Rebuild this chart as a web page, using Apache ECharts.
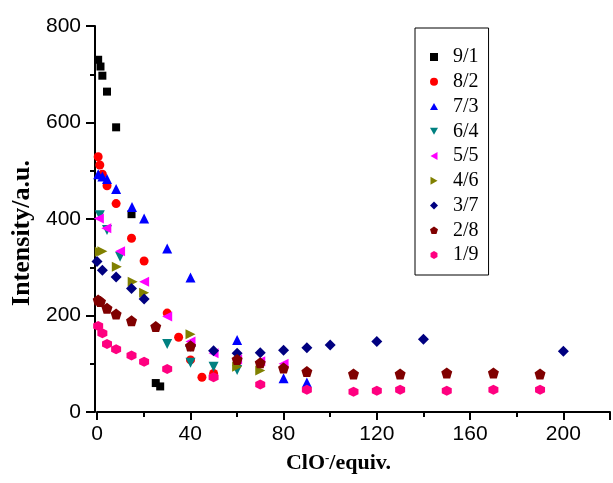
<!DOCTYPE html>
<html>
<head>
<meta charset="utf-8">
<script src="https://cdn.jsdelivr.net/npm/echarts@6/dist/echarts.min.js"></script>
<style>
html, body { margin: 0; padding: 0; background: #fff; }
#chart { width: 613px; height: 483px; }
</style>
</head>
<body>
<div id="chart"></div>
<script>
// ratios shown in the legend
var names = ["9/1", "8/2", "7/3", "6/4", "5/5", "4/6", "3/7", "2/8", "1/9"];

var x91 = [0.5, 1.5, 2.3, 4.3, 8.2, 14.8, 25.2, 27.1];
var y91 = [730, 716, 697, 664, 590, 410, 60, 53];

var x82 = [0.5, 1.2, 2.3, 4.3, 8.2, 14.8, 20.2, 30.1, 35, 40.1, 45, 50];
var y82 = [529, 512, 493, 469, 432, 360, 313, 205, 155, 108, 72, 80];

var x73 = [0.5, 2.3, 4.3, 8.2, 15, 20.2, 30.1, 40.1, 60.1, 80, 90];
var y73 = [493, 488, 483, 462, 425, 401, 339, 279, 149, 70, 61];

var x64 = [1.2, 4.3, 9.9, 30.1, 40.1, 50, 60.1];
var y64 = [408, 377, 322, 141, 102, 94, 87];

var x55 = [0.8, 4, 9.9, 20.2, 30.1, 40.1, 50, 60.1, 70, 80];
var y55 = [401, 381, 333, 270, 198, 146, 122, 109, 105, 100];

var x46 = [1.2, 2.3, 8.5, 15.3, 20.2, 40.1, 60.1, 70];
var y46 = [332, 333, 301, 270, 247, 161, 94, 86];

var x37 = [0, 2.3, 8.2, 14.8, 20.2, 40.1, 50, 60.1, 70, 80, 90, 100, 120, 140, 200];
var y37 = [312, 294, 280, 256, 234, 137, 127, 122, 123, 128, 133, 139, 146, 151, 126];

var x28 = [0.5, 1.5, 4.3, 8.2, 14.8, 25.2, 40.1, 60.1, 70, 80, 90, 110, 130, 150, 170, 190];
var y28 = [232, 229, 215, 203, 189, 177, 137, 109, 102, 91, 84, 79, 79, 81, 81, 79];

var x19 = [0.5, 2.3, 4.3, 8.2, 14.8, 20.2, 30.1, 50, 70, 90, 110, 120, 130, 150, 170, 190];
var y19 = [178, 163, 141, 130, 117, 104, 89, 72, 57, 46, 42, 44, 46, 44, 46, 46];

var xs = [x91, x82, x73, x64, x55, x46, x37, x28, x19];
var ys = [y91, y82, y73, y64, y55, y46, y37, y28, y19];

var colors = ["#000000", "#ff0000", "#0000ff", "#008080", "#ff00ff", "#808000", "#000080", "#800000", "#ff0080"];
var triUp = "path://M50,0 L100,87 L0,87 Z";
var triDown = "path://M0,0 L100,0 L50,87 Z";
var triLeft = "path://M0,50 L87,0 L87,100 Z";
var triRight = "path://M0,0 L87,50 L0,100 Z";
var pentagon = "path://M50,0 L97.6,34.5 L79.4,90.5 L20.6,90.5 L2.4,34.5 Z";
var hexagon = "path://M50,0 L93.3,25 L93.3,75 L50,100 L6.7,75 L6.7,25 Z";
var symbols = ["rect", "circle", triUp, triDown, triLeft, triRight, "diamond", pentagon, hexagon];
var sizes = [8, 9, 10, 10, 10, 10, 11, 11, 10];

function pairs(x, y) {
  var out = [];
  for (var i = 0; i < x.length; i++) out.push([x[i], y[i]]);
  return out;
}

var series = [];
var legendData = [];
for (var i = 0; i < names.length; i++) {
  series.push({
    name: names[i],
    type: "scatter",
    symbol: symbols[i],
    symbolSize: sizes[i],
    itemStyle: { color: colors[i], opacity: 1 },
    emphasis: { disabled: true },
    data: pairs(xs[i], ys[i])
  });
  legendData.push({ name: names[i], icon: symbols[i] });
}

var chart = echarts.init(document.getElementById("chart"), null, { renderer: "canvas" });

var axisFont = { color: "#000", fontFamily: "Liberation Sans", fontSize: 21 };

var option = {
  backgroundColor: "#ffffff",
  animation: false,
  grid: { left: 97, right: -3, top: 26, bottom: 71 },
  legend: {
    orient: "vertical",
    left: 415,
    top: 28,
    padding: [19, 10, 10, 15],
    itemGap: 4.75,
    itemWidth: 8,
    itemHeight: 8,
    borderColor: "#000",
    borderWidth: 1,
    selectedMode: false,
    textStyle: {
      color: "#000",
      fontFamily: "Liberation Serif",
      fontSize: 20,
      lineHeight: 20,
      padding: [0, 0, 0, 10]
    },
    data: legendData
  },
  xAxis: [
    {
      type: "value",
      min: 0,
      max: 220,
      interval: 40,
      axisLine: { show: true, onZero: false, lineStyle: { color: "#000", width: 2 } },
      axisTick: { show: true, length: 8, lineStyle: { color: "#000", width: 2 } },
      axisLabel: Object.assign({
        margin: 12,
        formatter: function (v) { return v > 200 ? "" : v; }
      }, axisFont),
      splitLine: { show: false },
      name: "{a|ClO}{s|-}{a|/equiv.}",
      nameLocation: "middle",
      nameGap: 40,
      nameTextStyle: {
        padding: [0, 30, 0, 0],
        rich: {
          a: { fontFamily: "Liberation Serif", fontWeight: "bold", fontSize: 22, color: "#000" },
          s: { fontFamily: "Liberation Serif", fontWeight: "bold", fontSize: 13, color: "#000", verticalAlign: "top", padding: [0, 0, 10, 0] }
        }
      }
    },
    {
      type: "value",
      min: 0,
      max: 220,
      interval: 20,
      position: "bottom",
      axisLine: { show: false },
      axisTick: { show: true, length: 5, lineStyle: { color: "#000", width: 2 } },
      axisLabel: { show: false },
      splitLine: { show: false }
    }
  ],
  yAxis: {
    type: "value",
    min: 0,
    max: 800,
    interval: 200,
    offset: 2,
    axisLine: { show: true, onZero: false, lineStyle: { color: "#000", width: 2 } },
    axisTick: { show: true, length: 9, lineStyle: { color: "#000", width: 2 } },
    minorTick: { show: true, splitNumber: 2, length: 5, lineStyle: { color: "#000", width: 2 } },
    axisLabel: Object.assign({ margin: 14 }, axisFont),
    splitLine: { show: false },
    name: "Intensity/a.u.",
    nameLocation: "middle",
    nameGap: 60,
    nameTextStyle: {
      fontFamily: "Liberation Serif",
      fontWeight: "bold",
      fontSize: 26,
      color: "#000",
      padding: [0, 28, 0, 0]
    }
  },
  series: series
};

chart.setOption(option);
</script>
</body>
</html>
